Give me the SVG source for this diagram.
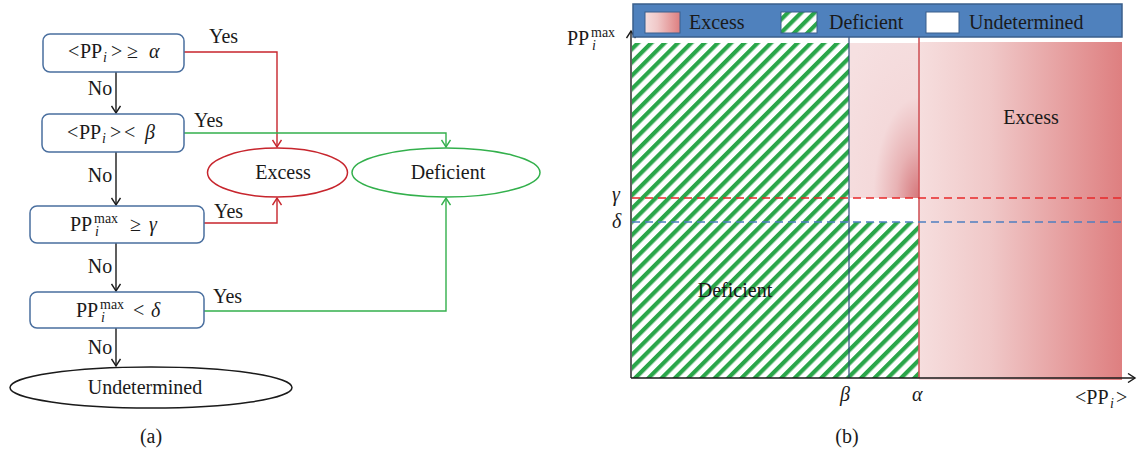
<svg xmlns="http://www.w3.org/2000/svg" width="1138" height="450" viewBox="0 0 1138 450">
<style>
text{font-family:"Liberation Serif","Times New Roman",serif;fill:#1a1a1a;}
.t{font-size:20px;}
.it{font-style:italic;}
.box{fill:#fff;stroke:#4a6f9f;stroke-width:1.5;}
.ln{fill:none;stroke-width:1.4;}
.red{stroke:#c7252d;}
.grn{stroke:#33b04c;}
.blk{stroke:#1a1a1a;}
</style>
<defs>
<marker id="ar" viewBox="0 0 10 10" markerWidth="10" markerHeight="10" refX="8" refY="5" orient="auto" markerUnits="userSpaceOnUse"><path d="M1,0.5 L8,5 L1,9.5" fill="none" stroke="#c7252d" stroke-width="1.4"/></marker>
<marker id="ag" viewBox="0 0 10 10" markerWidth="10" markerHeight="10" refX="8" refY="5" orient="auto" markerUnits="userSpaceOnUse"><path d="M1,0.5 L8,5 L1,9.5" fill="none" stroke="#33b04c" stroke-width="1.4"/></marker>
<marker id="ak" viewBox="0 0 10 10" markerWidth="10" markerHeight="10" refX="8" refY="5" orient="auto" markerUnits="userSpaceOnUse"><path d="M1,0.5 L8,5 L1,9.5" fill="none" stroke="#1a1a1a" stroke-width="1.4"/></marker>
<pattern id="hatch" patternUnits="userSpaceOnUse" width="9.4" height="9.4" patternTransform="rotate(45)">
<rect width="9.4" height="9.4" fill="#fff"/>
<rect x="0" y="0" width="4.2" height="9.4" fill="#2aa64a"/>
</pattern>
<linearGradient id="gx" x1="0" y1="0" x2="1" y2="0">
<stop offset="0" stop-color="#f6dede"/>
<stop offset="0.35" stop-color="#f0c8c8"/>
<stop offset="1" stop-color="#de7f80"/>
</linearGradient>
<radialGradient id="gr" cx="1" cy="1" r="1.3" fx="1" fy="1">
<stop offset="0" stop-color="#d5767a"/>
<stop offset="0.25" stop-color="#e8b2b4"/>
<stop offset="0.5" stop-color="#f4d9da"/>
<stop offset="1" stop-color="#f6e0e1"/>
</radialGradient>
</defs>

<!-- (a) flowchart connectors -->
<g id="connectors">
<path class="ln blk" d="M116,72 V113" marker-end="url(#ak)"/>
<path class="ln blk" d="M116,152 V205" marker-end="url(#ak)"/>
<path class="ln blk" d="M116,243 V291" marker-end="url(#ak)"/>
<path class="ln blk" d="M116,328 V366" marker-end="url(#ak)"/>
<path class="ln red" d="M184,52 H277 V147" marker-end="url(#ar)"/>
<path class="ln grn" d="M184,133 H446 V147" marker-end="url(#ag)"/>
<path class="ln red" d="M204,223 H277 V198" marker-end="url(#ar)"/>
<path class="ln grn" d="M204,311 H446 V198" marker-end="url(#ag)"/>
<text class="t" x="100" y="95" text-anchor="middle">No</text>
<text class="t" x="100" y="182" text-anchor="middle">No</text>
<text class="t" x="100" y="273" text-anchor="middle">No</text>
<text class="t" x="100" y="354" text-anchor="middle">No</text>
<text class="t" x="209" y="43">Yes</text>
<text class="t" x="194" y="127">Yes</text>
<text class="t" x="214" y="218">Yes</text>
<text class="t" x="213" y="303">Yes</text>
</g>

<g id="box1">
<rect class="box" x="43" y="34" width="141" height="38" rx="7"/>
<text class="t" y="58"><tspan x="68">&lt;</tspan><tspan x="80">PP</tspan><tspan class="it" x="103" y="62" font-size="14">i</tspan><tspan x="111" y="58">&gt;</tspan><tspan x="127">≥</tspan><tspan class="it" x="149">α</tspan></text>
</g>
<g id="box2">
<rect class="box" x="42" y="114" width="142" height="38" rx="7"/>
<text class="t" y="139"><tspan x="67">&lt;</tspan><tspan x="79">PP</tspan><tspan class="it" x="102" y="143" font-size="14">i</tspan><tspan x="110" y="139">&gt;</tspan><tspan x="124">&lt;</tspan><tspan class="it" x="145">β</tspan></text>
</g>
<g id="box3">
<rect class="box" x="30" y="206" width="174" height="37" rx="7"/>
<text class="t" y="231"><tspan x="70">PP</tspan><tspan x="94" y="223" font-size="14">max</tspan><tspan class="it" x="95" y="236" font-size="14">i</tspan><tspan x="130" y="231">≥</tspan><tspan class="it" x="149">γ</tspan></text>
</g>
<g id="box4">
<rect class="box" x="30" y="292" width="174" height="36" rx="7"/>
<text class="t" y="317"><tspan x="76">PP</tspan><tspan x="100" y="309" font-size="14">max</tspan><tspan class="it" x="101" y="322" font-size="14">i</tspan><tspan x="133" y="317">&lt;</tspan><tspan class="it" x="151">δ</tspan></text>
</g>
<g id="excess">
<ellipse cx="277.5" cy="172.5" rx="70" ry="24.5" fill="#fff" stroke="#c7252d" stroke-width="1.5"/>
<text class="t" x="283" y="179" text-anchor="middle">Excess</text>
</g>
<g id="deficient">
<ellipse cx="446" cy="172.5" rx="94" ry="24.5" fill="#fff" stroke="#33b04c" stroke-width="1.5"/>
<text class="t" x="448" y="179" text-anchor="middle">Deficient</text>
</g>
<g id="undetermined">
<ellipse cx="151" cy="387.5" rx="141" ry="20.5" fill="#fff" stroke="#1a1a1a" stroke-width="1.5"/>
<text class="t" x="145" y="394" text-anchor="middle">Undetermined</text>
</g>
<text class="t" x="151" y="443" text-anchor="middle">(a)</text>

<!-- (b) region plot -->
<g id="plot">
<rect x="632" y="43" width="217" height="335" fill="url(#hatch)"/>
<rect x="849" y="43" width="70" height="155" fill="url(#gr)"/>
<rect x="849" y="198" width="70" height="24" fill="#fff"/>
<rect x="849" y="222" width="70" height="156" fill="url(#hatch)"/>
<rect x="919" y="42" width="203" height="338" fill="url(#gx)"/>
<line x1="849" y1="36" x2="849" y2="378" stroke="#2e4a7a" stroke-width="1.2"/>
<line x1="919" y1="36" x2="919" y2="378" stroke="#d0555a" stroke-width="1.6"/>
<line x1="632" y1="198" x2="1121" y2="198" stroke="#e8282a" stroke-width="1.3" stroke-dasharray="8,5"/>
<line x1="632" y1="222" x2="1121" y2="222" stroke="#4f7fc0" stroke-width="1.3" stroke-dasharray="8,5"/>
<path class="ln blk" d="M631,378 V31" marker-end="url(#ak)"/>
<path class="ln blk" d="M631,378 H1135" marker-end="url(#ak)"/>
<text class="t" x="1031" y="124" text-anchor="middle">Excess</text>
<text class="t" x="735" y="297" text-anchor="middle">Deficient</text>
<text class="t" y="45"><tspan x="567">PP</tspan><tspan x="591" y="37" font-size="14">max</tspan><tspan class="it" x="592" y="50" font-size="14">i</tspan></text>
<text class="t it" x="612" y="201">γ</text>
<text class="t it" x="612" y="228">δ</text>
<text class="t it" x="840" y="401">β</text>
<text class="t it" x="912" y="401">α</text>
<text class="t" y="404"><tspan x="1075">&lt;PP</tspan><tspan class="it" x="1110" y="408" font-size="14">i</tspan><tspan x="1116" y="404">&gt;</tspan></text>
</g>
<g id="legend">
<rect x="633" y="4" width="489" height="33" fill="#4f81bd" stroke="#3a5f8c" stroke-width="1.5"/>
<rect x="645" y="12" width="35" height="21" fill="url(#gx)" stroke="#3a5f8c" stroke-width="1"/>
<text class="t" x="689" y="29">Excess</text>
<rect x="781" y="12" width="36" height="21" fill="url(#hatch)" stroke="#3a5f8c" stroke-width="1"/>
<text class="t" x="829" y="29">Deficient</text>
<rect x="926" y="12" width="33" height="21" fill="#fff" stroke="#3a5f8c" stroke-width="1"/>
<text class="t" x="969" y="29">Undetermined</text>
</g>
<text class="t" x="847" y="443" text-anchor="middle">(b)</text>
</svg>
